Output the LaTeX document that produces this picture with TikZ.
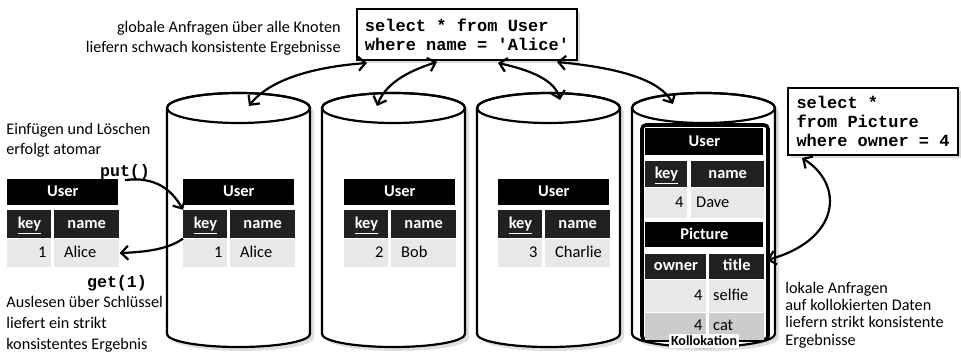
\documentclass[tikz,border=0pt]{standalone}
\usepackage{fontspec}
\setmainfont{Carlito}
\newfontfamily\codefont{Liberation Mono}[WordSpace={1,0,0}]
\usetikzlibrary{arrows.meta,shadows}

\tikzset{
  txt/.style={inner sep=0pt, font=\fontsize{8.1}{10}\selectfont},
  sqltext/.style={inner sep=0pt, font=\codefont\bfseries\fontsize{8.3}{9.5}\selectfont},
  qbox/.style={draw, line width=0.9pt, fill=white, align=left, inner sep=3pt,
    font=\codefont\bfseries\fontsize{8.5}{9.5}\selectfont,
    drop shadow={opacity=0.3, shadow xshift=1.5pt, shadow yshift=-1.5pt}},
  conn/.style={line width=1.1pt, -{Straight Barb[length=3.5pt, width=7pt]}},
  dconn/.style={line width=1.1pt, {Straight Barb[length=3.5pt, width=7pt]}-{Straight Barb[length=3.5pt, width=7pt]}},
  cell/.style={anchor=north west, inner sep=0pt, text height=6pt, text depth=1.8pt,
    font=\fontsize{8.2}{9.5}\selectfont},
  hdcell/.style={cell, fill=black, text=white, font=\bfseries\fontsize{8.2}{9.5}\selectfont},
  subcell/.style={hdcell, fill=black!87},
  rowcell/.style={cell, fill=black!9},
  rowcellb/.style={cell, fill=black!20},
  cylshape/.style={draw=black, line width=1.1pt, fill=white,
    drop shadow={opacity=0.25, shadow xshift=2pt, shadow yshift=-2pt}},
}

\begin{document}
\begin{tikzpicture}[x=0.5pt, y=-0.5pt]
\useasboundingbox (0,0) rectangle (961,353);

% Cylinders
\foreach \c in {238.5, 393.5, 548.5, 703.5} {
  \path[cylshape] (\c-71.5,108) -- (\c-71.5,334) arc (180:0:71.5 and 13)
    -- (\c+71.5,108) arc (360:180:71.5 and 15) -- cycle;
  \draw[line width=1.1pt] (\c,108) ellipse (71.5 and 15);
}

% Kollokation frame
\draw[line width=1.8pt, rounded corners=2pt] (642,125) rectangle (768,340);

% User tables
\foreach \n/\x/\k/\v in {t0/7/1/Alice, t1/183/1/Alice, t2/344/2/Bob, t3/498/3/Charlie} {
  \node[hdcell, minimum width=55.5pt, minimum height=13pt] (\n-h) at (\x,179) {User};
  \node[subcell, minimum width=22pt, minimum height=14pt] (\n-kh) at ([yshift=-2pt]\n-h.south west) {\underline{key}};
  \node[subcell, minimum width=32.5pt, minimum height=14pt] (\n-vh) at ([xshift=1pt]\n-kh.north east) {name};
  \node[rowcell, minimum width=22pt, minimum height=14pt, text width=17pt, align=right] (\n-k) at (\n-kh.south west) {\k};
  \node[rowcell, minimum width=32.5pt, minimum height=14pt, text width=22.5pt, align=left] (\n-v) at (\n-vh.south west) {\v};
}

% Collocated tables
\node[hdcell, minimum width=59pt, minimum height=13.5pt] (d-h) at (645,128) {User};
\node[subcell, minimum width=21pt, minimum height=13pt] (d-kh) at ([yshift=-2.5pt]d-h.south west) {\underline{key}};
\node[subcell, minimum width=36.5pt, minimum height=13pt] (d-vh) at ([xshift=1.5pt]d-kh.north east) {name};
\node[rowcell, minimum width=21pt, minimum height=15pt, text width=17pt, align=right] (d-k) at (d-kh.south west) {4};
\node[rowcell, minimum width=36.5pt, minimum height=15pt, text width=31.5pt, align=left] (d-v) at (d-vh.south west) {Dave};

\node[hdcell, minimum width=59pt, minimum height=12.5pt] (p-h) at (645,222) {Picture};
\node[subcell, minimum width=30.5pt, minimum height=12.5pt] (p-oh) at ([yshift=-3pt]p-h.south west) {owner};
\node[subcell, minimum width=27.5pt, minimum height=12.5pt] (p-th) at ([xshift=1pt]p-oh.north east) {title};
\node[rowcell, minimum width=30.5pt, minimum height=16pt, text width=26.5pt, align=right] (p-o1) at (p-oh.south west) {4};
\node[rowcell, minimum width=27.5pt, minimum height=16pt, text width=23.5pt, align=left] (p-t1) at (p-th.south west) {selfie};
\node[rowcellb, minimum width=30.5pt, minimum height=13.5pt, text width=26.5pt, align=right] (p-o2) at (p-o1.south west) {4};
\node[rowcellb, minimum width=27.5pt, minimum height=13.5pt, text width=23.5pt, align=left] (p-t2) at (p-t1.south west) {cat};

\node[fill=white, inner sep=1pt, font=\bfseries\fontsize{7}{8}\selectfont] (koll) at (704,341) {Kollokation};

% Queries
\node[qbox, minimum width=110pt, minimum height=25.5pt] (qglobal) at (467,34.5) {select * from User\\where name = 'Alice'};
\node[qbox, minimum width=85pt, minimum height=33.5pt] (qlocal) at (873,121.5) {select *\\from Picture\\where owner = 4};

% Notes
\node[txt, align=right, anchor=east] (globnote) at (341,38) {globale Anfragen über alle Knoten\\liefern schwach konsistente Ergebnisse};
\node[txt, align=left, anchor=west] (insnote) at (6,140) {Einfügen und Löschen\\erfolgt atomar};
\node[txt, align=left, anchor=west, font=\fontsize{8.1}{10.5}\selectfont] (readnote) at (6,324) {Auslesen über Schlüssel\\liefert ein strikt\\konsistentes Ergebnis};
\node[txt, align=left, anchor=west, font=\fontsize{8.1}{8.6}\selectfont] (localnote) at (785,315) {lokale Anfragen\\auf kollokierten Daten\\liefern strikt konsistente\\Ergebnisse};
\node[sqltext] (put) at (125,172) {put()};
\node[sqltext] (get) at (117,283) {get(1)};

% End points
\coordinate (q1) at (367,63);
\coordinate (q2) at (437,62);
\coordinate (q3) at (498,63);
\coordinate (q4) at (557,62);
\coordinate (n1) at (249,106);
\coordinate (n2) at (377,106);
\coordinate (n3) at (560,100);
\coordinate (n4) at (673,104);
\coordinate (ql) at (802,158);
\coordinate (frame) at (767,260);

% Arrows
\draw[conn] (put.south) .. controls (155,176) and (172,190) .. (t1-kh.north west);
\draw[conn] (t1-kh.south west) .. controls (170,248) and (150,252) .. (t0-v.east);
\draw[dconn] (q1) .. controls (300,68) and (265,85) .. (n1);
\draw[dconn] (q2) .. controls (405,72) and (385,85) .. (n2);
\draw[dconn] (q3) .. controls (530,70) and (555,80) .. (n3);
\draw[dconn] (q4) .. controls (620,68) and (660,80) .. (n4);
\draw[dconn] (ql) .. controls (845,185) and (840,240) .. (frame);

\end{tikzpicture}
\end{document}
